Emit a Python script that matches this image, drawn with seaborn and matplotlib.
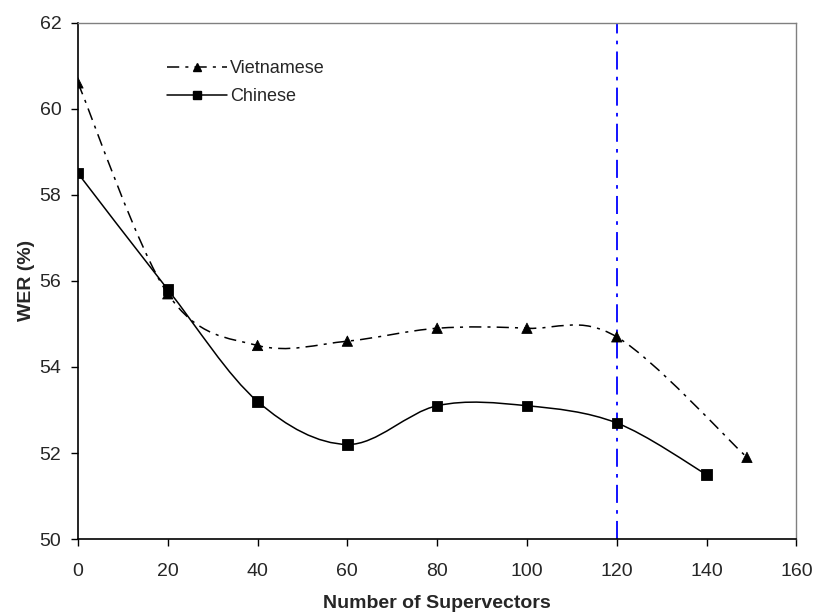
import numpy as np
import pandas as pd
import matplotlib
matplotlib.use("Agg")
import matplotlib.pyplot as plt
from matplotlib.path import Path
from matplotlib.patches import PathPatch
from matplotlib.lines import Line2D
import seaborn as sns

# data
viet_x = [0, 20, 40, 60, 80, 100, 120, 149]
viet_wer = [60.6, 55.7, 54.5, 54.6, 54.9, 54.9, 54.7, 51.9]
chin_x = [0, 20, 40, 60, 80, 100, 120, 140]
chin_wer = [58.5, 55.8, 53.2, 52.2, 53.1, 53.1, 52.7, 51.5]
cutoff_x = 120

df = pd.concat([
    pd.DataFrame({"n": viet_x, "wer": viet_wer, "lang": "Vietnamese"}),
    pd.DataFrame({"n": chin_x, "wer": chin_wer, "lang": "Chinese"}),
], ignore_index=True)

sns.set_style("white")
plt.rcParams["font.family"] = ["Liberation Sans", "DejaVu Sans"]


def smooth_path(xs, ys):
    # excel style smoothed line: cubic bezier through the points
    p = np.column_stack([xs, ys]).astype(float)
    verts = [p[0]]
    codes = [Path.MOVETO]
    n = len(p)
    for i in range(n - 1):
        p0 = p[i - 1] if i > 0 else p[i]
        p3 = p[i + 2] if i + 2 < n else p[i + 1]
        c1 = p[i] + (p[i + 1] - p0) / 6
        c2 = p[i + 1] - (p3 - p[i]) / 6
        verts += [c1, c2, p[i + 1]]
        codes += [Path.CURVE4] * 3
    return Path(verts, codes)


fig = plt.figure(figsize=(8.14, 6.12), dpi=100)
ax = fig.add_axes([0.0958, 0.119, 0.8825, 0.844])

viet_ls = (0, (8, 4, 2, 4))
ax.add_patch(PathPatch(smooth_path(viet_x, viet_wer), fill=False, edgecolor="black",
                       linewidth=1.1, linestyle=viet_ls))
ax.add_patch(PathPatch(smooth_path(chin_x, chin_wer), fill=False, edgecolor="black",
                       linewidth=1.1))

sns.scatterplot(data=df, x="n", y="wer", style="lang",
                markers={"Vietnamese": "^", "Chinese": "s"},
                color="black", s=55, edgecolor="black", legend=False, ax=ax, zorder=3)

ax.axvline(cutoff_x, color="#0000ff", linewidth=1.3, linestyle=(0, (10, 4, 2, 4)))

ax.set_xlim(0, 160)
ax.set_ylim(50, 62)
ax.set_xticks(range(0, 161, 20))
ax.set_yticks(range(50, 63, 2))
ax.tick_params(axis="both", labelsize=14, direction="out", length=5, width=1,
               bottom=True, left=True, color="black")
ax.tick_params(axis="x", pad=12)
ax.tick_params(axis="y", pad=7)
ax.set_xlabel("Number of Supervectors", fontsize=14, fontweight="bold", labelpad=11)
ax.set_ylabel("WER (%)", fontsize=14, fontweight="bold", labelpad=3)

for side in ["left", "bottom"]:
    ax.spines[side].set_color("black")
    ax.spines[side].set_linewidth(1.2)
for side in ["top", "right"]:
    ax.spines[side].set_color("#808080")
    ax.spines[side].set_linewidth(1.0)

handles = [
    Line2D([], [], color="black", linestyle=viet_ls, marker="^", markersize=6, linewidth=1.1),
    Line2D([], [], color="black", marker="s", markersize=6, linewidth=1.1),
]
ax.legend(handles, ["Vietnamese", "Chinese"], loc="upper left", bbox_to_anchor=(0.124, 0.927),
          borderaxespad=0, borderpad=0, frameon=False, fontsize=13,
          handlelength=3.3, handletextpad=0.2, labelspacing=0.6)

fig.savefig("out.png", dpi=100)
